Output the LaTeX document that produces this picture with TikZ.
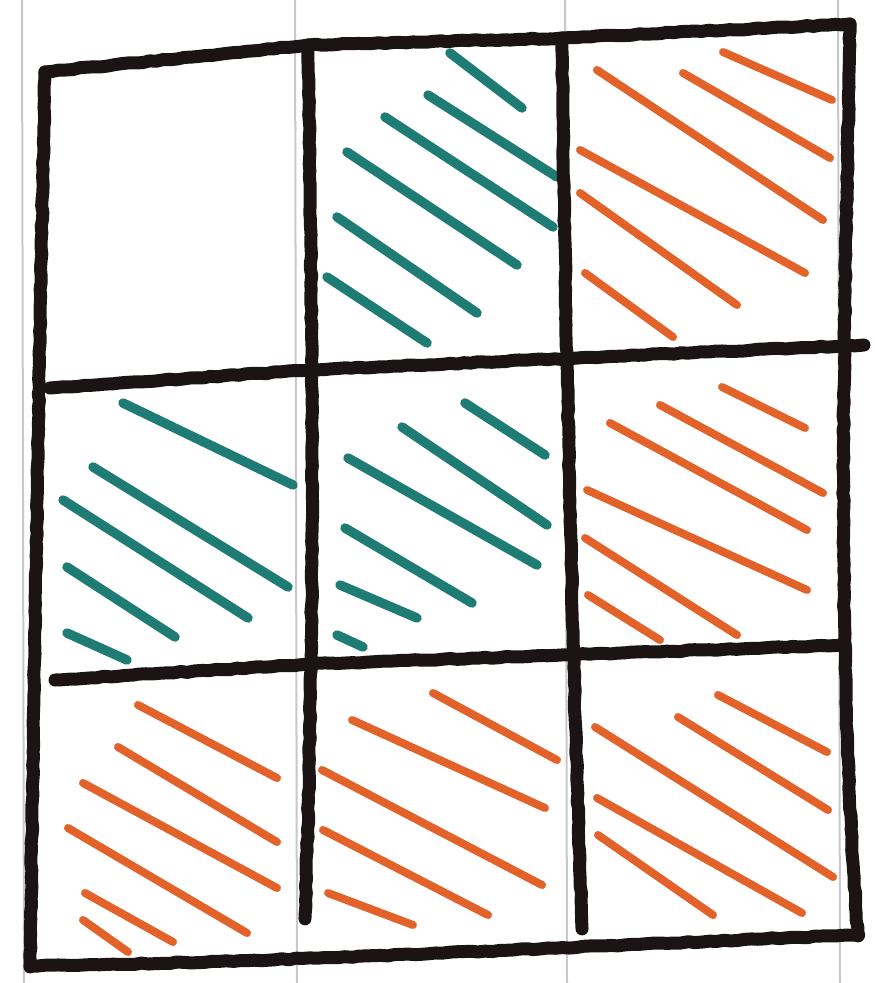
\documentclass[tikz,border=0pt]{standalone}
\usetikzlibrary{decorations.pathmorphing}
\definecolor{inkblack}{HTML}{1C1414}
\definecolor{tealink}{HTML}{1F7C75}
\definecolor{orangeink}{HTML}{E2622A}
\definecolor{paperline}{HTML}{C8C8CC}
\tikzset{
  gridline/.style={draw=inkblack, line width=13pt, line cap=round, line join=round,
    decorate, decoration={random steps, segment length=7pt, amplitude=0.7pt}},
  tealhatch/.style={draw=tealink, line width=9.5pt, line cap=round},
  orangehatch/.style={draw=orangeink, line width=8pt, line cap=round},
  ruling/.style={draw=paperline, line width=2pt}
}
\begin{document}
\begin{tikzpicture}[x=1pt,y=-1pt]
\useasboundingbox (0,0) rectangle (875,983);
\fill[white] (0,0) rectangle (875,983);
% notebook rulings
\foreach \xx in {22,295,565,838} \draw[ruling] (\xx,0) -- (\xx+2,983);
% corner coordinates
\coordinate (tl) at (45,72);
\coordinate (t1) at (308,45);
\coordinate (t2) at (562,38);
\coordinate (tr) at (850,24);
\coordinate (bl) at (30,966);
\coordinate (br) at (858,935);
\coordinate (v1b) at (305,918);
\coordinate (v2b) at (582,928);
\coordinate (h1l) at (50,388);
\coordinate (h1m) at (310,370);
\coordinate (h1r) at (864,345);
\coordinate (h2l) at (55,680);
\coordinate (h2m) at (310,664);
\coordinate (h2r) at (845,645);
% hatching: row 1
\foreach \a/\b/\c/\d in {450/53/522/108, 428/95/557/177, 385/117/553/227, 347/152/517/265, 337/217/477/313, 327/277/427/343}
  \draw[tealhatch] (\a,\b) -- (\c,\d);
\foreach \a/\b/\c/\d in {723/52/832/100, 683/73/830/158, 597/70/823/220, 580/150/805/273, 580/193/737/305, 585/273/673/337}
  \draw[orangehatch] (\a,\b) -- (\c,\d);
% row 2
\foreach \a/\b/\c/\d in {123/403/293/485, 93/467/288/587, 63/500/248/618, 67/567/175/637, 67/633/127/660}
  \draw[tealhatch] (\a,\b) -- (\c,\d);
\foreach \a/\b/\c/\d in {465/403/545/455, 402/427/547/525, 348/458/537/565, 345/528/472/603, 340/585/417/618, 337/635/363/647}
  \draw[tealhatch] (\a,\b) -- (\c,\d);
\foreach \a/\b/\c/\d in {722/387/805/428, 660/405/823/493, 610/423/807/530, 587/490/807/590, 585/538/737/635, 588/595/660/640}
  \draw[orangehatch] (\a,\b) -- (\c,\d);
% row 3
\foreach \a/\b/\c/\d in {138/705/277/778, 118/747/277/842, 83/783/277/888, 68/828/247/933, 85/893/173/942, 83/920/128/952}
  \draw[orangehatch] (\a,\b) -- (\c,\d);
\foreach \a/\b/\c/\d in {433/693/557/760, 352/720/545/808, 322/770/542/885, 323/830/488/915, 328/893/413/925}
  \draw[orangehatch] (\a,\b) -- (\c,\d);
\foreach \a/\b/\c/\d in {718/695/827/752, 678/717/828/810, 595/727/833/877, 597/798/802/913, 598/835/713/915}
  \draw[orangehatch] (\a,\b) -- (\c,\d);
% grid
\draw[gridline] (tl) -- (t1) -- (t2) -- (tr);
\draw[gridline] (tl) .. controls (38,400) and (34,700) .. (bl);
\draw[gridline] (bl) .. controls (300,962) and (600,945) .. (br);
\draw[gridline] (tr) .. controls (845,300) and (835,650) .. (br);
\draw[gridline] (t1) .. controls (312,300) and (316,600) .. (v1b);
\draw[gridline] (t2) .. controls (565,300) and (572,650) .. (v2b);
\draw[gridline] (h1l) -- (h1m) -- (h1r);
\draw[gridline] (h2l) -- (h2m) -- (h2r);
\end{tikzpicture}
\end{document}
